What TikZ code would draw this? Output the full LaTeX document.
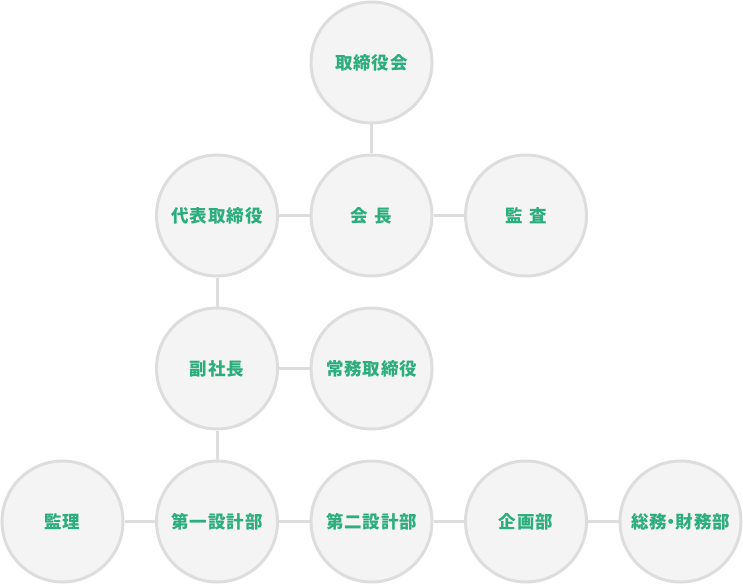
\documentclass[tikz,border=0pt]{standalone}
\usepackage{fontspec}
\newfontfamily\jpfont{Noto Sans CJK JP}[LetterSpace=5]
\usetikzlibrary{positioning}
\definecolor{ringgray}{HTML}{DDDDDD}
\definecolor{fillgray}{HTML}{F4F4F4}
\definecolor{labelgreen}{HTML}{2BAD7E}

\begin{document}
\begin{tikzpicture}[
    x=1pt,y=1pt,
    node distance=29pt and 30.5pt,
    post/.style={circle,draw=ringgray,fill=fillgray,line width=3pt,
      minimum size=121pt,inner sep=0pt,text=labelgreen,
      font=\jpfont\bfseries\fontsize{17.5}{17.5}\selectfont},
    link/.style={draw=ringgray,line width=3pt}
  ]
    \useasboundingbox (0,0) rectangle (743,-585);
    \node[post] (board) at (371.5,-62.5) {取締役会};
    \node[post,below=of board] (chair) {会\hspace{0.35em}長};
    \node[post,left=of chair] (rep) {代表取締役};
    \node[post,right=of chair] (audit) {監\hspace{0.35em}査};
    \node[post,below=of rep] (vice) {副社長};
    \node[post,right=of vice] (exec) {常務取締役};
    \node[post,below=of vice] (dept1) {第一設計部};
    \node[post,left=of dept1] (super) {監理};
    \node[post,right=of dept1] (dept2) {第二設計部};
    \node[post,right=of dept2] (plan) {企画部};
    \node[post,right=of plan] (admin) {総務\kern-.25em・\kern-.25em財務部};
    \draw[link] (board) -- (chair);
    \draw[link] (rep) -- (chair);
    \draw[link] (chair) -- (audit);
    \draw[link] (rep) -- (vice);
    \draw[link] (vice) -- (exec);
    \draw[link] (vice) -- (dept1);
    \draw[link] (super) -- (dept1);
    \draw[link] (dept1) -- (dept2);
    \draw[link] (dept2) -- (plan);
    \draw[link] (plan) -- (admin);
  \end{tikzpicture}
\end{document}
